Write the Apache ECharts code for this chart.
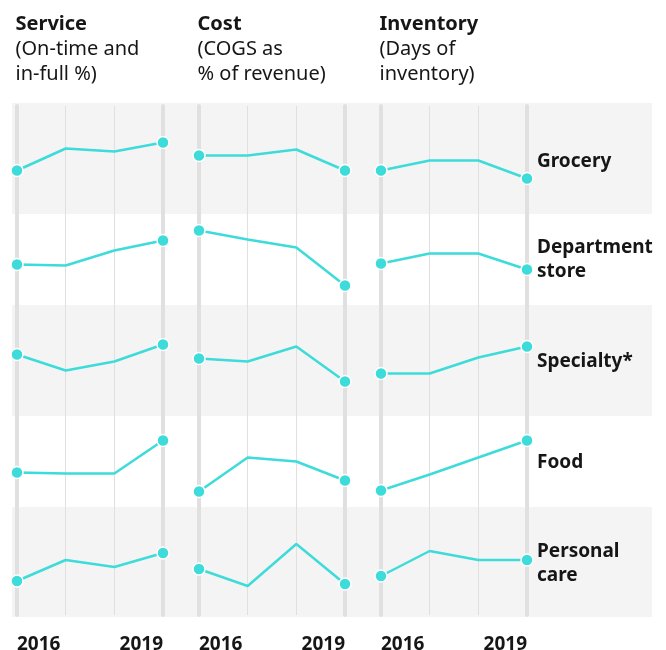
<!DOCTYPE html>
<html><head><meta charset="utf-8">
<script src="https://cdn.jsdelivr.net/npm/echarts@6/dist/echarts.min.js"></script>
<style>html,body{margin:0;padding:0;background:#fff}#c{width:666px;height:650px}</style>
</head><body><div id="c"></div>
<script>
// ---- data ----
const years = ['2016', '2017', '2018', '2019'];
const yearTickLabels = ['2016', '2019'];
const metricTitles = ['Service', 'Cost', 'Inventory'];
const metricSubtitles = [['(On-time and', 'in-full %)'], ['(COGS as', '% of revenue)'], ['(Days of', 'inventory)']];
const segments = ['Grocery', 'Department\nstore', 'Specialty*', 'Food', 'Personal\ncare'];
// relative index (0-100) per segment, per year
const serviceIndex = [
  [38, 60, 57, 66],
  [45, 44, 59, 69],
  [56, 40, 49, 66],
  [39, 38, 38, 71],
  [31, 52, 45, 59]
];
const costIndex = [
  [53, 53, 59, 38],
  [79, 70, 62, 24],
  [52, 49, 64, 29],
  [20, 54, 50, 31],
  [43, 26, 68, 28]
];
const inventoryIndex = [
  [38, 48, 48, 30],
  [46, 56, 56, 40],
  [37, 37, 53, 64],
  [21, 37, 54, 71],
  [36, 61, 52, 52]
];
const metricValues = [serviceIndex, costIndex, inventoryIndex];

// ---- layout ----
const FONT = 'Noto Sans';
const TEXT = '#161616';
const TEAL = '#3ddbd9';
const GRIDLINE = '#e0e0e0';
const colLeft = [17, 199, 381];
const colWidth = 146;
const rowCenter = [158.5, 259.5, 360.5, 461.5, 562];
const labelCenter = [161.7, 259.2, 361.7, 462.7, 563.3];
const greyBands = [[103, 214], [305, 416], [507, 617]];

const grid = [], xAxis = [], yAxis = [], series = [], graphic = [];

greyBands.forEach(b => graphic.push({
  type: 'rect', z: -10, silent: true,
  shape: { x: 12, y: b[0], width: 640, height: b[1] - b[0] },
  style: { fill: '#f4f4f4' }
}));

// background column grids: year lines + year labels
metricTitles.forEach((m, c) => {
  grid.push({ left: colLeft[c], width: colWidth, top: 106, height: 509, containLabel: false, outerBoundsMode: 'none' });
  xAxis.push({
    gridIndex: c, type: 'category', data: years, boundaryGap: false,
    axisLine: { show: false }, axisTick: { show: false },
    splitLine: { show: true, lineStyle: { color: GRIDLINE, width: 1 } },
    axisLabel: {
      show: true, interval: 0, margin: 20, hideOverlap: false,
      formatter: v => yearTickLabels.includes(v) ? v : '',
      alignMinLabel: 'left', alignMaxLabel: 'right',
      fontFamily: FONT, fontWeight: 'bold', fontSize: 19, color: TEXT
    }
  });
  ['left', 'right'].forEach(pos => yAxis.push({
    gridIndex: c, type: 'value', min: 0, max: 1, position: pos,
    axisLine: { show: true, lineStyle: { color: GRIDLINE, width: 4, cap: 'round' } },
    axisTick: { show: false }, axisLabel: { show: false }, splitLine: { show: false }
  }));
});

// cell grids
segments.forEach((s, r) => {
  metricTitles.forEach((m, c) => {
    const gi = grid.length;
    grid.push({ left: colLeft[c], width: colWidth, top: rowCenter[r] - 50, height: 100, outerBoundsMode: 'none' });
    xAxis.push({ gridIndex: gi, type: 'category', data: years, boundaryGap: false, show: false });
    yAxis.push({ gridIndex: gi, type: 'value', min: 0, max: 100, show: false });
    const vals = metricValues[c][r];
    series.push({
      type: 'line', xAxisIndex: gi, yAxisIndex: yAxis.length - 1, z: 5,
      data: vals.map((v, i) => (i === 0 || i === vals.length - 1) ? v : { value: v, symbol: 'none' }),
      symbol: 'circle', symbolSize: 12, showAllSymbol: true,
      lineStyle: { color: TEAL, width: 2.5 },
      itemStyle: { color: TEAL, borderColor: '#fff', borderWidth: 1.5 },
      emphasis: { disabled: true }, silent: true
    });
  });
  graphic.push({
    type: 'text', silent: true,
    style: {
      x: 537, y: labelCenter[r], text: s, font: `bold 19px "${FONT}"`, fill: TEXT,
      verticalAlign: 'middle', lineHeight: 24
    }
  });
});

// headers
metricTitles.forEach((m, c) => {
  const x = colLeft[c] - 1.5;
  graphic.push({ type: 'text', silent: true, style: { x, y: 24.5, text: m, font: `bold 20px "${FONT}"`, fill: TEXT, verticalAlign: 'middle' } });
  metricSubtitles[c].forEach((line, k) => graphic.push({
    type: 'text', silent: true, style: { x, y: 49.5 + 25 * k, text: line, font: `20px "${FONT}"`, fill: TEXT, verticalAlign: 'middle' }
  }));
});

const chart = echarts.init(document.getElementById('c'), null, { renderer: 'canvas' });
chart.setOption({ animation: false, grid, xAxis, yAxis, series, graphic });
</script></body></html>
